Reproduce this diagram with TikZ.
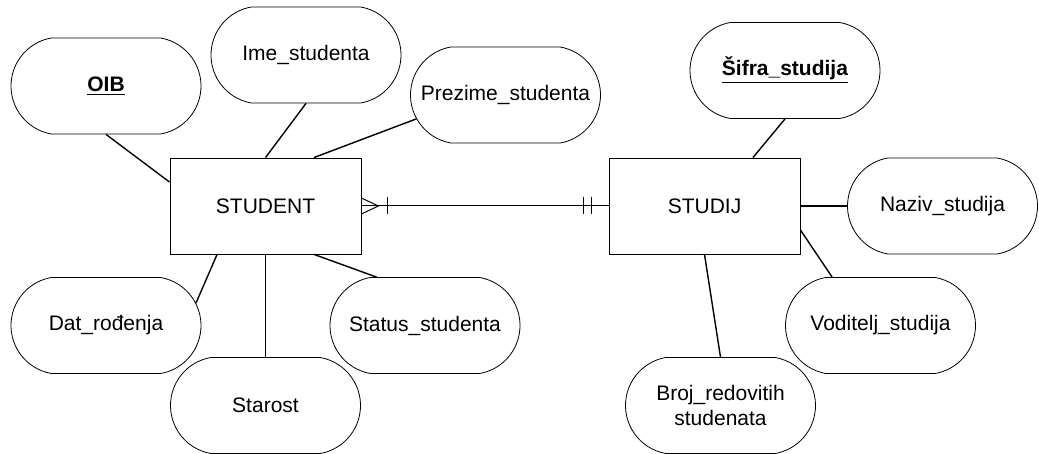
\documentclass[tikz,border=0pt]{standalone}
\usepackage{fontspec}
\setmainfont{Liberation Sans}
\usepackage{tikz}
\usetikzlibrary{shapes,positioning,calc}
\tikzset{
  er entity/.style={rectangle, draw, line width=0.4pt, inner sep=0pt, minimum width=95.5pt, minimum height=48pt},
  er attribute/.style={rounded rectangle, rounded rectangle arc length=160, draw, line width=0.4pt, inner xsep=-9pt, inner ysep=0pt, minimum width=77pt, minimum height=48pt, align=center},
  er link/.style={line width=0.7pt},
  er rel/.style={line width=0.5pt}
}

\begin{document}
\begin{tikzpicture}[on grid, font=\fontsize{10.5pt}{12.6pt}\selectfont]
    \useasboundingbox (0,0) rectangle (519.5pt,-227pt);

    % Entities
    \node [er entity] (Student) at (132.75pt,-103pt) {STUDENT};
    \node [er entity, right=219.5pt of Student] (Studij) {STUDIJ};

    % Student attributes
    \node [er attribute, above left=60pt and 79.75pt of Student] (OIB) {\underline{\textbf{OIB}}};
    \node [er attribute, above right=75.5pt and 20.25pt of Student] (Ime) {Ime\_studenta};
    \node [er attribute, above right=55.5pt and 120pt of Student] (Prezime) {Prezime\_studenta};
    \node [er attribute, below left=59.75pt and 79.75pt of Student] (Datum) {Dat\_rođenja};
    \node [er attribute, below=99.75pt of Student] (Starost) {Starost};
    \node [er attribute, below right=59.75pt and 79.75pt of Student] (Status) {Status\_studenta};

    % Studij attributes
    \node [er attribute, above right=67.75pt and 40.25pt of Studij] (Sifra) {\underline{\textbf{Šifra\_studija}}};
    \node [er attribute, right=119pt of Studij] (Naziv) {Naziv\_studija};
    \node [er attribute, below right=59.75pt and 88pt of Studij] (Voditelj) {Voditelj\_studija};
    \node [er attribute, below right=99.75pt and 8pt of Studij] (Broj) {Broj\_redovitih\\studenata};

    % Attribute links
    \draw [er link] (OIB.south) -- (Student.166);
    \draw [er link] (Ime.south) -- (Student.north);
    \draw [er link] (Prezime.195) -- (Student.45);
    \draw [er link] (Datum.14) -- (Student.225);
    \draw [er link] (Starost.north) -- (Student.south);
    \draw [er link] (Status.135) -- (Student.-45);
    \draw [er link] (Sifra.south) -- (Studij.45);
    \draw [er link] (Naziv.west) -- (Studij.east);
    \draw [er link] (Voditelj.135) -- (Studij.-14);
    \draw [er link] (Broj.north) -- (Studij.south);

    % Relationship (one or many -- one and only one)
    \draw [er rel] (Student.east) -- (Studij.west);
    \draw [er rel] ([yshift=4pt]Student.east) -- ([xshift=8.5pt]Student.east) -- ([yshift=-4pt]Student.east);
    \draw [er rel] ([xshift=13pt,yshift=4.25pt]Student.east) -- ++(0,-8.5pt);
    \foreach \d in {8.5,12.5}
        \draw [er rel] ([xshift=-\d pt,yshift=4.25pt]Studij.west) -- ++(0,-8.5pt);
\end{tikzpicture}
\end{document}
